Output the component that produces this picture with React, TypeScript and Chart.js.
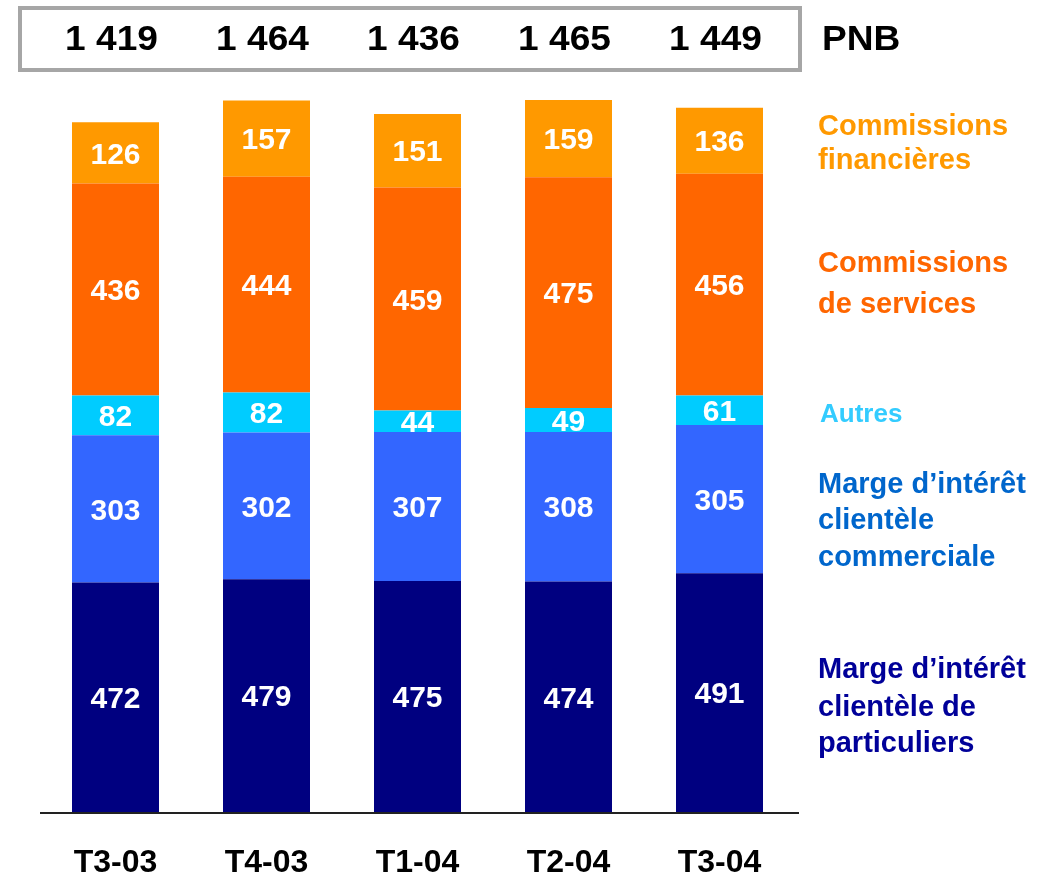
import React, { useEffect, useRef } from "react";
import { Chart, registerables } from "chart.js";

Chart.register(...registerables);

const categories = ["T3-03", "T4-03", "T1-04", "T2-04", "T3-04"];
const pnbTotals = ["1 419", "1 464", "1 436", "1 465", "1 449"];
const pnbLabel = "PNB";

const margeParticuliers = [472, 479, 475, 474, 491];
const margeCommerciale = [303, 302, 307, 308, 305];
const autres = [82, 82, 44, 49, 61];
const commissionsServices = [436, 444, 459, 475, 456];
const commissionsFinancieres = [126, 157, 151, 159, 136];

const seriesNames = [
  ["Marge d\u2019intérêt", "clientèle de", "particuliers"],
  ["Marge d\u2019intérêt", "clientèle", "commerciale"],
  ["Autres"],
  ["Commissions", "de services"],
  ["Commissions", "financières"],
];

const barColors = ["#000080", "#3366FF", "#00CCFF", "#FF6600", "#FF9900"];
const textColors = ["#000099", "#0066CC", "#33CCFF", "#FF6600", "#FF9900"];
// legend line centres (px) — layout only
const legendLineY = [
  [668, 706, 742],
  [483, 519, 556],
  [413],
  [262, 303],
  [125, 159],
];
const legendFontSize = [29, 29, 26, 29, 29];
const legendX = [818, 818, 820, 818, 818];

const FONT = '"Liberation Sans", Arial, Helvetica, sans-serif';

const overlayPlugin = {
  id: "overlay",
  afterDatasetsDraw(chart: any) {
    const ctx = chart.ctx as CanvasRenderingContext2D;
    const area = chart.chartArea;
    const xScale = chart.scales.x;
    ctx.save();

    // segment value labels
    ctx.fillStyle = "#FFFFFF";
    ctx.textAlign = "center";
    ctx.textBaseline = "alphabetic";
    const fs = 30;
    ctx.font = `bold ${fs}px ${FONT}`;
    chart.data.datasets.forEach((ds: any, di: number) => {
      const meta = chart.getDatasetMeta(di);
      meta.data.forEach((bar: any, i: number) => {
        const cy = (bar.y + bar.base) / 2;
        ctx.fillText(String(ds.data[i]), bar.x, cy + fs * 0.358);
      });
    });

    // axis line
    ctx.strokeStyle = "#222222";
    ctx.lineWidth = 2;
    ctx.beginPath();
    ctx.moveTo(area.left, area.bottom + 1);
    ctx.lineTo(area.right + 4, area.bottom + 1);
    ctx.stroke();

    // category labels
    ctx.fillStyle = "#000000";
    ctx.font = `bold 32px ${FONT}`;
    categories.forEach((c, i) => {
      const x = xScale.getPixelForValue(i);
      ctx.fillText(c, x, 872);
    });

    // top box
    ctx.strokeStyle = "#A6A6A6";
    ctx.lineWidth = 4;
    ctx.strokeRect(20, 8, 780, 62);

    // totals
    const tfs = 35;
    ctx.font = `bold ${tfs}px ${FONT}`;
    const sx = 1.06;
    const tBase = 37.5 + tfs * 0.358;
    pnbTotals.forEach((t, i) => {
      const x = xScale.getPixelForValue(i);
      ctx.save();
      ctx.translate(x - 4, tBase);
      ctx.scale(sx, 1);
      ctx.textAlign = "center";
      ctx.fillText(t, 0, 0);
      ctx.restore();
    });
    ctx.save();
    ctx.translate(822, tBase);
    ctx.scale(sx, 1);
    ctx.textAlign = "left";
    ctx.fillText(pnbLabel, 0, 0);
    ctx.restore();

    // legend
    ctx.textAlign = "left";
    seriesNames.forEach((lines, si) => {
      const f = legendFontSize[si];
      ctx.font = `bold ${f}px ${FONT}`;
      ctx.fillStyle = textColors[si];
      lines.forEach((line, li) => {
        ctx.fillText(line, legendX[si], legendLineY[si][li] + f * 0.358);
      });
    });

    ctx.restore();
  },
};

export default function App() {
  const canvasRef = useRef<HTMLCanvasElement | null>(null);

  useEffect(() => {
    if (!canvasRef.current) return;
    const seriesData = [
      margeParticuliers,
      margeCommerciale,
      autres,
      commissionsServices,
      commissionsFinancieres,
    ];
    const chart = new Chart(canvasRef.current, {
      type: "bar",
      data: {
        labels: categories,
        datasets: seriesData.map((d, i) => ({
          label: seriesNames[i].join(" "),
          data: d,
          backgroundColor: barColors[i],
          borderWidth: 0,
          barPercentage: 87 / 151,
          categoryPercentage: 1,
        })),
      },
      options: {
        responsive: false,
        animation: false,
        layout: { padding: { left: 40, right: 247, top: 80, bottom: 63 } },
        scales: {
          x: { stacked: true, display: false },
          y: { stacked: true, display: false, min: 0, max: 1506 },
        },
        plugins: {
          legend: { display: false },
          tooltip: { enabled: false },
        },
      },
      plugins: [overlayPlugin],
    });
    return () => chart.destroy();
  }, []);

  return (
    <div style={{ position: "absolute", left: 0, top: 0, width: 1042, height: 875, background: "#FFFFFF" }}>
      <canvas ref={canvasRef} width={1042} height={875} />
    </div>
  );
}
